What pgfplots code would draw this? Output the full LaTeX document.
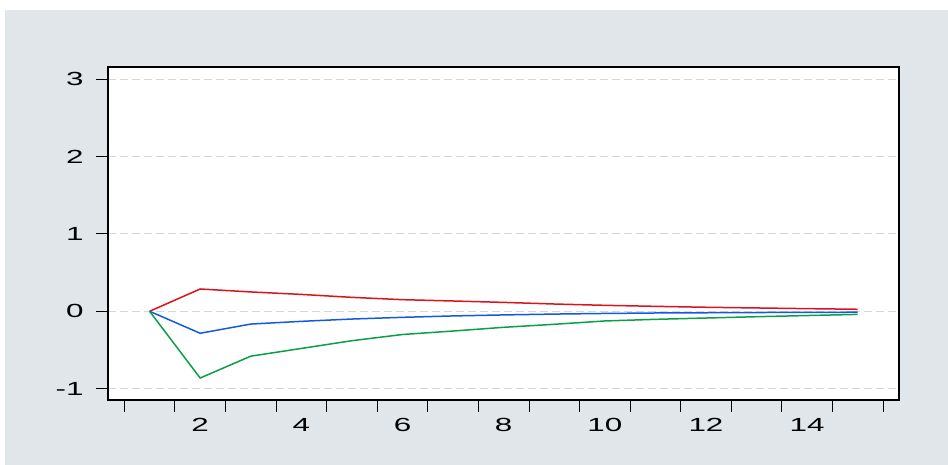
\documentclass[border=0pt]{standalone}
\usepackage{pgfplots}
\pgfplotsset{compat=1.18}
\usepackage{fontspec}
\setmainfont{Liberation Sans}[FakeStretch=1.65]
\definecolor{bg}{RGB}{225,230,234}
\definecolor{cred}{RGB}{218,20,28}
\definecolor{cblue}{RGB}{20,90,225}
\definecolor{cgreen}{RGB}{10,160,70}
\definecolor{gridc}{RGB}{215,215,215}
\begin{document}
\begin{tikzpicture}
\path[use as bounding box] (0,0) rectangle (948pt,465pt);
\fill[white] (0,0) rectangle (948pt,465pt);
\fill[bg] (5pt,0) rectangle (948pt,455pt);
\begin{axis}[
  at={(108pt,65pt)}, anchor=south west,
  width=791pt, height=333pt, scale only axis,
  xmin=0.178, xmax=15.816, ymin=-1.146, ymax=3.156,
  axis background/.style={fill=white},
  axis line style={black, line width=1.6pt},
  tick align=outside, tick pos=left,
  xtick={0.5,1.5,...,15.5}, xticklabels={},
  extra x ticks={2,4,...,14},
  extra x tick style={major tick length=0pt, tick style={draw=none},
     xticklabel style={yshift=-15pt}},
  ytick={-1,0,1,2,3},
  yticklabel style={xshift=-9pt},
  major tick length=12pt,
  tick style={black, line width=0.8pt},
  ymajorgrids,
  grid style={gridc, line width=0.8pt, dash pattern=on 8pt off 4pt},
  ticklabel style={font=\fontsize{19}{19}\selectfont},
  /pgf/number format/assume math mode=true,
  clip=false,
]
\addplot[cred, line width=1.5pt] coordinates {
(1,0) (2,0.288) (3,0.25) (4,0.218) (5,0.18) (6,0.15) (7,0.133) (8,0.115) (9,0.094) (10,0.077) (11,0.064) (12,0.052) (13,0.043) (14,0.034) (15,0.026)};
\addplot[cblue, line width=1.5pt] coordinates {
(1,0) (2,-0.284) (3,-0.165) (4,-0.13) (5,-0.10) (6,-0.078) (7,-0.06) (8,-0.047) (9,-0.036) (10,-0.028) (11,-0.022) (12,-0.019) (13,-0.016) (14,-0.014) (15,-0.012)};
\addplot[cgreen, line width=1.5pt] coordinates {
(1,0) (2,-0.862) (3,-0.58) (4,-0.48) (5,-0.38) (6,-0.30) (7,-0.255) (8,-0.207) (9,-0.168) (10,-0.125) (11,-0.104) (12,-0.087) (13,-0.07) (14,-0.055) (15,-0.04)};
\end{axis}
\end{tikzpicture}
\end{document}
